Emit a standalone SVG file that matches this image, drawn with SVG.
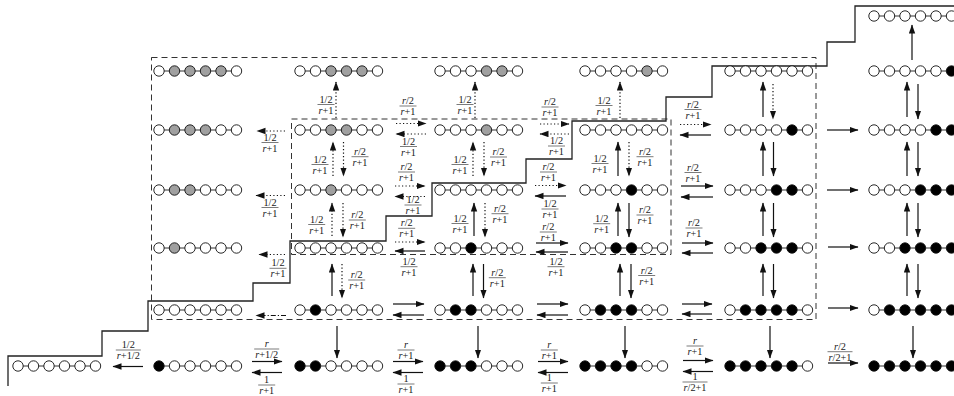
<svg xmlns="http://www.w3.org/2000/svg" width="954" height="396" viewBox="0 0 954 396">
<style>
.lk{stroke:#333;stroke-width:1;fill:none}
circle{stroke:#111;stroke-width:0.9}
.w{fill:#fff}.g{fill:#a0a0a0}.b{fill:#000}
.box{fill:none;stroke:#333;stroke-width:1;stroke-dasharray:6 4}
.st{fill:none;stroke:#222;stroke-width:1.3}
.a{stroke:#111;stroke-width:1.2;fill:none;marker-end:url(#ah)}
.d{stroke-dasharray:1.2 2.3}
.dd{stroke-dasharray:5 2 1.2 2}
.fr text{font-family:"Liberation Serif","DejaVu Serif",serif;font-size:10.3px;text-anchor:middle;fill:#1a1a1a}
.fr path{stroke:#222;stroke-width:0.6}
.i{font-style:italic}
</style>
<defs>
<marker id="ah" markerUnits="userSpaceOnUse" markerWidth="10" markerHeight="8" refX="8.5" refY="3.2" orient="auto"><path d="M0,0L9,3.2L0,6.4Z" fill="#111"/></marker>
</defs>
<g id="frames">
<rect class="box" x="151.5" y="57.5" width="664.5" height="262"/>
<rect class="box" x="291.5" y="119" width="379.5" height="135.5"/>
<path class="st" d="M8,386V356H102V331H148V301H253V283H290V241H386V216H432V183H526V159H572V121H666V97H712V66H827V42H855V6H954"/>
</g>
<g id="connectors">
<path class="a" d="M912,60V25"/>
<path class="a d" d="M336,118V82"/>
<path class="a d" d="M475,118V82"/>
<path class="a d" d="M620,118V82"/>
<path class="a" d="M763,117V82"/><path class="a d" d="M773,84V119"/>
<path class="a" d="M907,117V82"/><path class="a" d="M918,84V119"/>
<path class="a d" d="M333,176V142"/><path class="a d" d="M343.5,142V176"/>
<path class="a d" d="M473,176V142"/><path class="a d" d="M484,142V176"/>
<path class="a" d="M618,176V142"/><path class="a d" d="M629,142V176"/>
<path class="a" d="M763,176V142"/><path class="a" d="M773.5,142V176"/>
<path class="a" d="M907,176V142"/><path class="a" d="M918,142V176"/>
<path class="a d" d="M332,236V203"/><path class="a d" d="M343,203V237"/>
<path class="a" d="M474,236V203"/><path class="a d" d="M485,203V237"/>
<path class="a" d="M618,236V203"/><path class="a" d="M629,203V237"/>
<path class="a" d="M763,236V203"/><path class="a" d="M773.5,203V237"/>
<path class="a" d="M907,236V203"/><path class="a" d="M918,203V237"/>
<path class="a" d="M332,296V264"/><path class="a d" d="M342,264V298"/>
<path class="a" d="M473,296V264"/><path class="a" d="M483.5,264V298"/>
<path class="a" d="M620,296V264"/><path class="a" d="M631,264V298"/>
<path class="a" d="M763,296V264"/><path class="a" d="M773.5,264V298"/>
<path class="a" d="M907,296V264"/><path class="a" d="M918,264V298"/>
<path class="a" d="M337,326V358"/>
<path class="a" d="M478,326V358"/>
<path class="a" d="M625,326V358"/>
<path class="a" d="M770,326V358"/>
<path class="a" d="M913,326V358"/>
<path class="a d" d="M285,131H257"/>
<path class="a d" d="M396,123.5H426"/><path class="a d" d="M426,134H396"/>
<path class="a d" d="M540,124H569"/><path class="a d" d="M569,134H540"/>
<path class="a d" d="M680,124.5H711"/><path class="a" d="M711,135H680"/>
<path class="a" d="M827,130H858"/>
<path class="a d" d="M285,195.5H256"/>
<path class="a d" d="M395,186H425"/><path class="a d" d="M425,196.5H395"/>
<path class="a d" d="M535,185.5H566"/><path class="a" d="M566,196H535"/>
<path class="a" d="M681,186H713"/><path class="a" d="M713,197H681"/>
<path class="a" d="M827,190H858"/>
<path class="a d" d="M285,254.5H259"/>
<path class="a d" d="M395,242H425"/><path class="a" d="M425,251H395"/>
<path class="a" d="M536,243H568"/><path class="a" d="M568,252H536"/>
<path class="a" d="M682,243H713"/><path class="a" d="M713,253H682"/>
<path class="a" d="M828,247H858"/>
<path class="a dd" d="M286,315.5H256"/>
<path class="a" d="M393,304H424"/><path class="a" d="M424,315H393"/>
<path class="a" d="M537,304H568"/><path class="a" d="M568,315H537"/>
<path class="a" d="M682,304H712"/><path class="a" d="M712,314H682"/>
<path class="a" d="M828,308H858"/>
<path class="a" d="M143,366.5H113"/>
<path class="a" d="M252,361.5H282"/><path class="a" d="M282,372.5H252"/>
<path class="a" d="M393,361.5H423"/><path class="a" d="M423,372.5H393"/>
<path class="a" d="M538,361.5H568"/><path class="a" d="M568,372.5H538"/>
<path class="a" d="M683,360.5H713"/><path class="a" d="M713,371.5H683"/>
<path class="a" d="M828,363H858"/>
</g>
<g id="labels" class="fr">
<g transform="translate(326,104.5)"><text y="-2">1/2</text><path d="M-8.5,0H8.5"/><text y="9"><tspan class="i">r</tspan>+1</text></g>
<g transform="translate(465,104.5)"><text y="-2">1/2</text><path d="M-8.5,0H8.5"/><text y="9"><tspan class="i">r</tspan>+1</text></g>
<g transform="translate(604,105.5)"><text y="-2">1/2</text><path d="M-8.5,0H8.5"/><text y="9"><tspan class="i">r</tspan>+1</text></g>
<g transform="translate(270,142.5)"><text y="-2">1/2</text><path d="M-8.5,0H8.5"/><text y="9"><tspan class="i">r</tspan>+1</text></g>
<g transform="translate(408,106)"><text y="-2"><tspan class="i">r</tspan>/2</text><path d="M-8.5,0H8.5"/><text y="9"><tspan class="i">r</tspan>+1</text></g>
<g transform="translate(408.5,146.5)"><text y="-2">1/2</text><path d="M-8.5,0H8.5"/><text y="9"><tspan class="i">r</tspan>+1</text></g>
<g transform="translate(550,107)"><text y="-2"><tspan class="i">r</tspan>/2</text><path d="M-8.5,0H8.5"/><text y="9"><tspan class="i">r</tspan>+1</text></g>
<g transform="translate(556.5,146)"><text y="-2">1/2</text><path d="M-8.5,0H8.5"/><text y="9"><tspan class="i">r</tspan>+1</text></g>
<g transform="translate(693,109.5)"><text y="-2"><tspan class="i">r</tspan>/2</text><path d="M-8.5,0H8.5"/><text y="9"><tspan class="i">r</tspan>+1</text></g>
<g transform="translate(320,164.5)"><text y="-2">1/2</text><path d="M-8.5,0H8.5"/><text y="9"><tspan class="i">r</tspan>+1</text></g>
<g transform="translate(360,156.7)"><text y="-2"><tspan class="i">r</tspan>/2</text><path d="M-8.5,0H8.5"/><text y="9"><tspan class="i">r</tspan>+1</text></g>
<g transform="translate(460,164.5)"><text y="-2">1/2</text><path d="M-8.5,0H8.5"/><text y="9"><tspan class="i">r</tspan>+1</text></g>
<g transform="translate(498.5,157)"><text y="-2"><tspan class="i">r</tspan>/2</text><path d="M-8.5,0H8.5"/><text y="9"><tspan class="i">r</tspan>+1</text></g>
<g transform="translate(600,163.5)"><text y="-2">1/2</text><path d="M-8.5,0H8.5"/><text y="9"><tspan class="i">r</tspan>+1</text></g>
<g transform="translate(645,156.7)"><text y="-2"><tspan class="i">r</tspan>/2</text><path d="M-8.5,0H8.5"/><text y="9"><tspan class="i">r</tspan>+1</text></g>
<g transform="translate(270,207.5)"><text y="-2">1/2</text><path d="M-8.5,0H8.5"/><text y="9"><tspan class="i">r</tspan>+1</text></g>
<g transform="translate(406.5,172)"><text y="-2"><tspan class="i">r</tspan>/2</text><path d="M-8.5,0H8.5"/><text y="9"><tspan class="i">r</tspan>+1</text></g>
<g transform="translate(413,205)"><text y="-2">1/2</text><path d="M-8.5,0H8.5"/><text y="9"><tspan class="i">r</tspan>+1</text></g>
<g transform="translate(548.5,172)"><text y="-2"><tspan class="i">r</tspan>/2</text><path d="M-8.5,0H8.5"/><text y="9"><tspan class="i">r</tspan>+1</text></g>
<g transform="translate(550,209)"><text y="-2">1/2</text><path d="M-8.5,0H8.5"/><text y="9"><tspan class="i">r</tspan>+1</text></g>
<g transform="translate(693,172.5)"><text y="-2"><tspan class="i">r</tspan>/2</text><path d="M-8.5,0H8.5"/><text y="9"><tspan class="i">r</tspan>+1</text></g>
<g transform="translate(316.7,224.5)"><text y="-2">1/2</text><path d="M-8.5,0H8.5"/><text y="9"><tspan class="i">r</tspan>+1</text></g>
<g transform="translate(357.3,220)"><text y="-2"><tspan class="i">r</tspan>/2</text><path d="M-8.5,0H8.5"/><text y="9"><tspan class="i">r</tspan>+1</text></g>
<g transform="translate(460,223.5)"><text y="-2">1/2</text><path d="M-8.5,0H8.5"/><text y="9"><tspan class="i">r</tspan>+1</text></g>
<g transform="translate(500,213.7)"><text y="-2"><tspan class="i">r</tspan>/2</text><path d="M-8.5,0H8.5"/><text y="9"><tspan class="i">r</tspan>+1</text></g>
<g transform="translate(601.7,223.7)"><text y="-2">1/2</text><path d="M-8.5,0H8.5"/><text y="9"><tspan class="i">r</tspan>+1</text></g>
<g transform="translate(645,215)"><text y="-2"><tspan class="i">r</tspan>/2</text><path d="M-8.5,0H8.5"/><text y="9"><tspan class="i">r</tspan>+1</text></g>
<g transform="translate(278,268.3)"><text y="-2">1/2</text><path d="M-8.5,0H8.5"/><text y="9"><tspan class="i">r</tspan>+1</text></g>
<g transform="translate(406.7,228.3)"><text y="-2"><tspan class="i">r</tspan>/2</text><path d="M-8.5,0H8.5"/><text y="9"><tspan class="i">r</tspan>+1</text></g>
<g transform="translate(409,266.7)"><text y="-2">1/2</text><path d="M-8.5,0H8.5"/><text y="9"><tspan class="i">r</tspan>+1</text></g>
<g transform="translate(548.3,232)"><text y="-2"><tspan class="i">r</tspan>/2</text><path d="M-8.5,0H8.5"/><text y="9"><tspan class="i">r</tspan>+1</text></g>
<g transform="translate(556,266.7)"><text y="-2">1/2</text><path d="M-8.5,0H8.5"/><text y="9"><tspan class="i">r</tspan>+1</text></g>
<g transform="translate(694,228)"><text y="-2"><tspan class="i">r</tspan>/2</text><path d="M-8.5,0H8.5"/><text y="9"><tspan class="i">r</tspan>+1</text></g>
<g transform="translate(356.7,280)"><text y="-2"><tspan class="i">r</tspan>/2</text><path d="M-8.5,0H8.5"/><text y="9"><tspan class="i">r</tspan>+1</text></g>
<g transform="translate(497.3,277.7)"><text y="-2"><tspan class="i">r</tspan>/2</text><path d="M-8.5,0H8.5"/><text y="9"><tspan class="i">r</tspan>+1</text></g>
<g transform="translate(646.7,275.5)"><text y="-2"><tspan class="i">r</tspan>/2</text><path d="M-8.5,0H8.5"/><text y="9"><tspan class="i">r</tspan>+1</text></g>
<g transform="translate(128.3,350)"><text y="-2">1/2</text><path d="M-12.5,0H12.5"/><text y="9"><tspan class="i">r</tspan>+1/2</text></g>
<g transform="translate(266.7,349)"><text y="-2" class="i">r</text><path d="M-12.5,0H12.5"/><text y="9"><tspan class="i">r</tspan>+1/2</text></g>
<g transform="translate(266.7,385)"><text y="-2">1</text><path d="M-8.5,0H8.5"/><text y="9"><tspan class="i">r</tspan>+1</text></g>
<g transform="translate(406,350)"><text y="-2" class="i">r</text><path d="M-8.5,0H8.5"/><text y="9"><tspan class="i">r</tspan>+1</text></g>
<g transform="translate(406,384)"><text y="-2">1</text><path d="M-8.5,0H8.5"/><text y="9"><tspan class="i">r</tspan>+1</text></g>
<g transform="translate(549.3,350)"><text y="-2" class="i">r</text><path d="M-8.5,0H8.5"/><text y="9"><tspan class="i">r</tspan>+1</text></g>
<g transform="translate(549.3,383)"><text y="-2">1</text><path d="M-8.5,0H8.5"/><text y="9"><tspan class="i">r</tspan>+1</text></g>
<g transform="translate(695,346)"><text y="-2" class="i">r</text><path d="M-8.5,0H8.5"/><text y="9"><tspan class="i">r</tspan>+1</text></g>
<g transform="translate(695,382)"><text y="-2">1</text><path d="M-12.5,0H12.5"/><text y="9"><tspan class="i">r</tspan>/2+1</text></g>
<g transform="translate(840,351.7)"><text y="-2"><tspan class="i">r</tspan>/2</text><path d="M-12.5,0H12.5"/><text y="9"><tspan class="i">r</tspan>/2+1</text></g>
</g>
<g id="r0c5" transform="translate(874,16)"><path class="lk" d="M0,0H77.5"/><circle class="w" cx="0" r="5.2"/><circle class="w" cx="15.5" r="5.2"/><circle class="w" cx="31" r="5.2"/><circle class="w" cx="46.5" r="5.2"/><circle class="w" cx="62" r="5.2"/><circle class="w" cx="77.5" r="5.2"/></g>
<g id="r1c0" transform="translate(159,71)"><path class="lk" d="M0,0H77.5"/><circle class="w" cx="0" r="5.2"/><circle class="g" cx="15.5" r="5.2"/><circle class="g" cx="31" r="5.2"/><circle class="g" cx="46.5" r="5.2"/><circle class="g" cx="62" r="5.2"/><circle class="w" cx="77.5" r="5.2"/></g>
<g id="r1c1" transform="translate(300,71)"><path class="lk" d="M0,0H77.5"/><circle class="w" cx="0" r="5.2"/><circle class="w" cx="15.5" r="5.2"/><circle class="g" cx="31" r="5.2"/><circle class="g" cx="46.5" r="5.2"/><circle class="g" cx="62" r="5.2"/><circle class="w" cx="77.5" r="5.2"/></g>
<g id="r1c2" transform="translate(440,71)"><path class="lk" d="M0,0H77.5"/><circle class="w" cx="0" r="5.2"/><circle class="w" cx="15.5" r="5.2"/><circle class="w" cx="31" r="5.2"/><circle class="g" cx="46.5" r="5.2"/><circle class="g" cx="62" r="5.2"/><circle class="w" cx="77.5" r="5.2"/></g>
<g id="r1c3" transform="translate(585,71)"><path class="lk" d="M0,0H77.5"/><circle class="w" cx="0" r="5.2"/><circle class="w" cx="15.5" r="5.2"/><circle class="w" cx="31" r="5.2"/><circle class="w" cx="46.5" r="5.2"/><circle class="g" cx="62" r="5.2"/><circle class="w" cx="77.5" r="5.2"/></g>
<g id="r1c4" transform="translate(730,71)"><path class="lk" d="M0,0H77.5"/><circle class="w" cx="0" r="5.2"/><circle class="w" cx="15.5" r="5.2"/><circle class="w" cx="31" r="5.2"/><circle class="w" cx="46.5" r="5.2"/><circle class="w" cx="62" r="5.2"/><circle class="w" cx="77.5" r="5.2"/></g>
<g id="r1c5" transform="translate(874,71)"><path class="lk" d="M0,0H77.5"/><circle class="w" cx="0" r="5.2"/><circle class="w" cx="15.5" r="5.2"/><circle class="w" cx="31" r="5.2"/><circle class="w" cx="46.5" r="5.2"/><circle class="w" cx="62" r="5.2"/><circle class="b" cx="77.5" r="5.2"/></g>
<g id="r2c0" transform="translate(159,130)"><path class="lk" d="M0,0H77.5"/><circle class="w" cx="0" r="5.2"/><circle class="g" cx="15.5" r="5.2"/><circle class="g" cx="31" r="5.2"/><circle class="g" cx="46.5" r="5.2"/><circle class="w" cx="62" r="5.2"/><circle class="w" cx="77.5" r="5.2"/></g>
<g id="r2c1" transform="translate(300,130)"><path class="lk" d="M0,0H77.5"/><circle class="w" cx="0" r="5.2"/><circle class="w" cx="15.5" r="5.2"/><circle class="g" cx="31" r="5.2"/><circle class="g" cx="46.5" r="5.2"/><circle class="w" cx="62" r="5.2"/><circle class="w" cx="77.5" r="5.2"/></g>
<g id="r2c2" transform="translate(440,130)"><path class="lk" d="M0,0H77.5"/><circle class="w" cx="0" r="5.2"/><circle class="w" cx="15.5" r="5.2"/><circle class="w" cx="31" r="5.2"/><circle class="g" cx="46.5" r="5.2"/><circle class="w" cx="62" r="5.2"/><circle class="w" cx="77.5" r="5.2"/></g>
<g id="r2c3" transform="translate(585,130)"><path class="lk" d="M0,0H77.5"/><circle class="w" cx="0" r="5.2"/><circle class="w" cx="15.5" r="5.2"/><circle class="w" cx="31" r="5.2"/><circle class="w" cx="46.5" r="5.2"/><circle class="w" cx="62" r="5.2"/><circle class="w" cx="77.5" r="5.2"/></g>
<g id="r2c4" transform="translate(730,130)"><path class="lk" d="M0,0H77.5"/><circle class="w" cx="0" r="5.2"/><circle class="w" cx="15.5" r="5.2"/><circle class="w" cx="31" r="5.2"/><circle class="w" cx="46.5" r="5.2"/><circle class="b" cx="62" r="5.2"/><circle class="w" cx="77.5" r="5.2"/></g>
<g id="r2c5" transform="translate(874,130)"><path class="lk" d="M0,0H77.5"/><circle class="w" cx="0" r="5.2"/><circle class="w" cx="15.5" r="5.2"/><circle class="w" cx="31" r="5.2"/><circle class="w" cx="46.5" r="5.2"/><circle class="b" cx="62" r="5.2"/><circle class="b" cx="77.5" r="5.2"/></g>
<g id="r3c0" transform="translate(159,190)"><path class="lk" d="M0,0H77.5"/><circle class="w" cx="0" r="5.2"/><circle class="g" cx="15.5" r="5.2"/><circle class="g" cx="31" r="5.2"/><circle class="w" cx="46.5" r="5.2"/><circle class="w" cx="62" r="5.2"/><circle class="w" cx="77.5" r="5.2"/></g>
<g id="r3c1" transform="translate(300,190)"><path class="lk" d="M0,0H77.5"/><circle class="w" cx="0" r="5.2"/><circle class="w" cx="15.5" r="5.2"/><circle class="g" cx="31" r="5.2"/><circle class="w" cx="46.5" r="5.2"/><circle class="w" cx="62" r="5.2"/><circle class="w" cx="77.5" r="5.2"/></g>
<g id="r3c2" transform="translate(440,190)"><path class="lk" d="M0,0H77.5"/><circle class="w" cx="0" r="5.2"/><circle class="w" cx="15.5" r="5.2"/><circle class="w" cx="31" r="5.2"/><circle class="w" cx="46.5" r="5.2"/><circle class="w" cx="62" r="5.2"/><circle class="w" cx="77.5" r="5.2"/></g>
<g id="r3c3" transform="translate(585,190)"><path class="lk" d="M0,0H77.5"/><circle class="w" cx="0" r="5.2"/><circle class="w" cx="15.5" r="5.2"/><circle class="w" cx="31" r="5.2"/><circle class="b" cx="46.5" r="5.2"/><circle class="w" cx="62" r="5.2"/><circle class="w" cx="77.5" r="5.2"/></g>
<g id="r3c4" transform="translate(730,190)"><path class="lk" d="M0,0H77.5"/><circle class="w" cx="0" r="5.2"/><circle class="w" cx="15.5" r="5.2"/><circle class="w" cx="31" r="5.2"/><circle class="b" cx="46.5" r="5.2"/><circle class="b" cx="62" r="5.2"/><circle class="w" cx="77.5" r="5.2"/></g>
<g id="r3c5" transform="translate(874,190)"><path class="lk" d="M0,0H77.5"/><circle class="w" cx="0" r="5.2"/><circle class="w" cx="15.5" r="5.2"/><circle class="w" cx="31" r="5.2"/><circle class="b" cx="46.5" r="5.2"/><circle class="b" cx="62" r="5.2"/><circle class="b" cx="77.5" r="5.2"/></g>
<g id="r4c0" transform="translate(159,248)"><path class="lk" d="M0,0H77.5"/><circle class="w" cx="0" r="5.2"/><circle class="g" cx="15.5" r="5.2"/><circle class="w" cx="31" r="5.2"/><circle class="w" cx="46.5" r="5.2"/><circle class="w" cx="62" r="5.2"/><circle class="w" cx="77.5" r="5.2"/></g>
<g id="r4c1" transform="translate(300,248)"><path class="lk" d="M0,0H77.5"/><circle class="w" cx="0" r="5.2"/><circle class="w" cx="15.5" r="5.2"/><circle class="w" cx="31" r="5.2"/><circle class="w" cx="46.5" r="5.2"/><circle class="w" cx="62" r="5.2"/><circle class="w" cx="77.5" r="5.2"/></g>
<g id="r4c2" transform="translate(440,248)"><path class="lk" d="M0,0H77.5"/><circle class="w" cx="0" r="5.2"/><circle class="w" cx="15.5" r="5.2"/><circle class="b" cx="31" r="5.2"/><circle class="w" cx="46.5" r="5.2"/><circle class="w" cx="62" r="5.2"/><circle class="w" cx="77.5" r="5.2"/></g>
<g id="r4c3" transform="translate(585,248)"><path class="lk" d="M0,0H77.5"/><circle class="w" cx="0" r="5.2"/><circle class="w" cx="15.5" r="5.2"/><circle class="b" cx="31" r="5.2"/><circle class="b" cx="46.5" r="5.2"/><circle class="w" cx="62" r="5.2"/><circle class="w" cx="77.5" r="5.2"/></g>
<g id="r4c4" transform="translate(730,248)"><path class="lk" d="M0,0H77.5"/><circle class="w" cx="0" r="5.2"/><circle class="w" cx="15.5" r="5.2"/><circle class="b" cx="31" r="5.2"/><circle class="b" cx="46.5" r="5.2"/><circle class="b" cx="62" r="5.2"/><circle class="w" cx="77.5" r="5.2"/></g>
<g id="r4c5" transform="translate(874,248)"><path class="lk" d="M0,0H77.5"/><circle class="w" cx="0" r="5.2"/><circle class="w" cx="15.5" r="5.2"/><circle class="b" cx="31" r="5.2"/><circle class="b" cx="46.5" r="5.2"/><circle class="b" cx="62" r="5.2"/><circle class="b" cx="77.5" r="5.2"/></g>
<g id="r5c0" transform="translate(159,310)"><path class="lk" d="M0,0H77.5"/><circle class="w" cx="0" r="5.2"/><circle class="w" cx="15.5" r="5.2"/><circle class="w" cx="31" r="5.2"/><circle class="w" cx="46.5" r="5.2"/><circle class="w" cx="62" r="5.2"/><circle class="w" cx="77.5" r="5.2"/></g>
<g id="r5c1" transform="translate(300,310)"><path class="lk" d="M0,0H77.5"/><circle class="w" cx="0" r="5.2"/><circle class="b" cx="15.5" r="5.2"/><circle class="w" cx="31" r="5.2"/><circle class="w" cx="46.5" r="5.2"/><circle class="w" cx="62" r="5.2"/><circle class="w" cx="77.5" r="5.2"/></g>
<g id="r5c2" transform="translate(440,310)"><path class="lk" d="M0,0H77.5"/><circle class="w" cx="0" r="5.2"/><circle class="b" cx="15.5" r="5.2"/><circle class="b" cx="31" r="5.2"/><circle class="w" cx="46.5" r="5.2"/><circle class="w" cx="62" r="5.2"/><circle class="w" cx="77.5" r="5.2"/></g>
<g id="r5c3" transform="translate(585,310)"><path class="lk" d="M0,0H77.5"/><circle class="w" cx="0" r="5.2"/><circle class="b" cx="15.5" r="5.2"/><circle class="b" cx="31" r="5.2"/><circle class="b" cx="46.5" r="5.2"/><circle class="w" cx="62" r="5.2"/><circle class="w" cx="77.5" r="5.2"/></g>
<g id="r5c4" transform="translate(730,310)"><path class="lk" d="M0,0H77.5"/><circle class="w" cx="0" r="5.2"/><circle class="b" cx="15.5" r="5.2"/><circle class="b" cx="31" r="5.2"/><circle class="b" cx="46.5" r="5.2"/><circle class="b" cx="62" r="5.2"/><circle class="w" cx="77.5" r="5.2"/></g>
<g id="r5c5" transform="translate(874,310)"><path class="lk" d="M0,0H77.5"/><circle class="w" cx="0" r="5.2"/><circle class="b" cx="15.5" r="5.2"/><circle class="b" cx="31" r="5.2"/><circle class="b" cx="46.5" r="5.2"/><circle class="b" cx="62" r="5.2"/><circle class="b" cx="77.5" r="5.2"/></g>
<g id="r6cm" transform="translate(18,366)"><path class="lk" d="M0,0H77.5"/><circle class="w" cx="0" r="5.2"/><circle class="w" cx="15.5" r="5.2"/><circle class="w" cx="31" r="5.2"/><circle class="w" cx="46.5" r="5.2"/><circle class="w" cx="62" r="5.2"/><circle class="w" cx="77.5" r="5.2"/></g>
<g id="r6c0" transform="translate(159,366)"><path class="lk" d="M0,0H77.5"/><circle class="b" cx="0" r="5.2"/><circle class="w" cx="15.5" r="5.2"/><circle class="w" cx="31" r="5.2"/><circle class="w" cx="46.5" r="5.2"/><circle class="w" cx="62" r="5.2"/><circle class="w" cx="77.5" r="5.2"/></g>
<g id="r6c1" transform="translate(300,366)"><path class="lk" d="M0,0H77.5"/><circle class="b" cx="0" r="5.2"/><circle class="b" cx="15.5" r="5.2"/><circle class="w" cx="31" r="5.2"/><circle class="w" cx="46.5" r="5.2"/><circle class="w" cx="62" r="5.2"/><circle class="w" cx="77.5" r="5.2"/></g>
<g id="r6c2" transform="translate(440,366)"><path class="lk" d="M0,0H77.5"/><circle class="b" cx="0" r="5.2"/><circle class="b" cx="15.5" r="5.2"/><circle class="b" cx="31" r="5.2"/><circle class="w" cx="46.5" r="5.2"/><circle class="w" cx="62" r="5.2"/><circle class="w" cx="77.5" r="5.2"/></g>
<g id="r6c3" transform="translate(585,366)"><path class="lk" d="M0,0H77.5"/><circle class="b" cx="0" r="5.2"/><circle class="b" cx="15.5" r="5.2"/><circle class="b" cx="31" r="5.2"/><circle class="b" cx="46.5" r="5.2"/><circle class="w" cx="62" r="5.2"/><circle class="w" cx="77.5" r="5.2"/></g>
<g id="r6c4" transform="translate(730,366)"><path class="lk" d="M0,0H77.5"/><circle class="b" cx="0" r="5.2"/><circle class="b" cx="15.5" r="5.2"/><circle class="b" cx="31" r="5.2"/><circle class="b" cx="46.5" r="5.2"/><circle class="b" cx="62" r="5.2"/><circle class="w" cx="77.5" r="5.2"/></g>
<g id="r6c5" transform="translate(874,366)"><path class="lk" d="M0,0H77.5"/><circle class="b" cx="0" r="5.2"/><circle class="b" cx="15.5" r="5.2"/><circle class="b" cx="31" r="5.2"/><circle class="b" cx="46.5" r="5.2"/><circle class="b" cx="62" r="5.2"/><circle class="b" cx="77.5" r="5.2"/></g>
</svg>
